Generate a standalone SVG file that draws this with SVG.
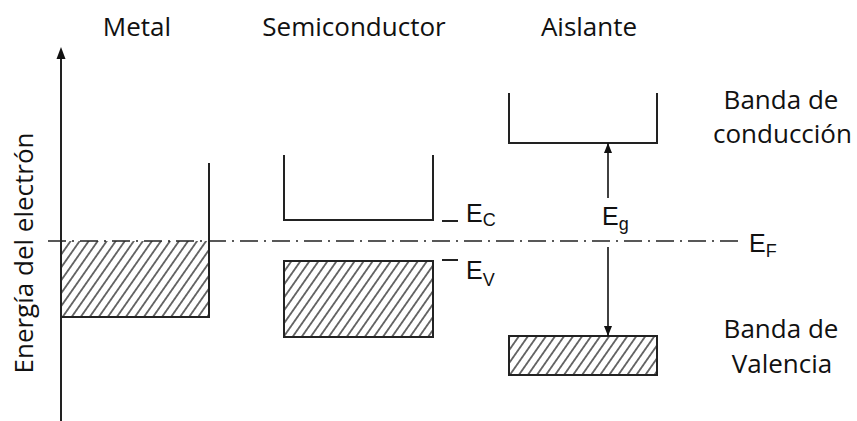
<svg xmlns="http://www.w3.org/2000/svg" width="857" height="421" viewBox="0 0 857 421">
  <defs>
    <pattern id="hatch" patternUnits="userSpaceOnUse" width="7.4" height="10" patternTransform="rotate(35)">
      <line x1="3.7" y1="-1" x2="3.7" y2="11" stroke="#222" stroke-width="1.3"/>
    </pattern>
    <marker id="arr" viewBox="0 0 10 10" refX="10" refY="5" markerWidth="10" markerHeight="10" markerUnits="userSpaceOnUse" orient="auto">
      <path d="M0,1 L10,5 L0,9 Z" fill="#111"/>
    </marker>
  </defs>
  <style>
    .lbl { font-family: "Open Sans", "Liberation Sans", sans-serif; font-size: 26px; fill: #111; }
    .sym { font-family: "Liberation Sans", Arial, sans-serif; font-size: 25px; fill: #111; }
    .sub { font-size: 18px; }
    .ln { stroke: #222; stroke-width: 2; fill: none; }
    .hb { fill: url(#hatch); stroke: #222; stroke-width: 2; }
  </style>
  <rect width="857" height="421" fill="#fff"/>

  <!-- axis -->
  <g id="axis">
    <line x1="61" y1="421" x2="61" y2="58" class="ln"/>
    <path d="M61,47 L65.5,59 L56.5,59 Z" fill="#111"/>
    <text class="lbl" transform="translate(33,253) rotate(-90)" text-anchor="middle" font-size="27.5">Energía del electrón</text>
  </g>

  <!-- column titles -->
  <text class="lbl" x="137" y="36" text-anchor="middle">Metal</text>
  <text class="lbl" x="354" y="36" text-anchor="middle">Semiconductor</text>
  <text class="lbl" x="589" y="36" text-anchor="middle">Aislante</text>

  <!-- Metal -->
  <g id="metal">
    <rect x="61" y="241" width="148" height="76" fill="url(#hatch)"/>
    <path d="M209,163 V317 H61" class="ln"/>
  </g>

  <!-- Semiconductor -->
  <g id="semiconductor">
    <path d="M284,155 V220 H433 V155" class="ln"/>
    <rect x="284" y="261" width="149" height="76" class="hb"/>
    <line x1="442" y1="221" x2="458" y2="221" class="ln"/>
    <line x1="442" y1="260" x2="458" y2="260" class="ln"/>
    <text class="sym" x="466" y="222">E<tspan class="sub" dy="4">C</tspan></text>
    <text class="sym" x="466" y="279">E<tspan class="sub" dy="7">V</tspan></text>
  </g>

  <!-- Insulator -->
  <g id="aislante">
    <path d="M509,93 V143 H657 V93" class="ln"/>
    <rect x="509" y="336" width="148" height="39" class="hb"/>
    <text class="sym" x="602" y="225" font-size="27">E<tspan class="sub" dy="5" font-size="19">g</tspan></text>
  </g>

  <!-- Connectors -->
  <g id="connectors">
    <line x1="48" y1="241" x2="738" y2="241" stroke="#222" stroke-width="1.7" stroke-dasharray="18 6 2 6"/>
    <line x1="608" y1="198" x2="608" y2="143" stroke="#111" stroke-width="1.6" marker-end="url(#arr)"/>
    <line x1="608" y1="247" x2="608" y2="336" stroke="#111" stroke-width="1.6" marker-end="url(#arr)"/>
  </g>

  <text class="sym" x="749" y="252" font-size="28">E<tspan class="sub" dy="5" font-size="19">F</tspan></text>

  <!-- Band labels -->
  <g id="labels">
    <text class="lbl" x="781" y="109" text-anchor="middle">Banda de</text>
    <text class="lbl" x="713" y="143">conducción</text>
    <text class="lbl" x="781" y="338" text-anchor="middle">Banda de</text>
    <text class="lbl" x="782" y="373" text-anchor="middle">Valencia</text>
  </g>
</svg>
